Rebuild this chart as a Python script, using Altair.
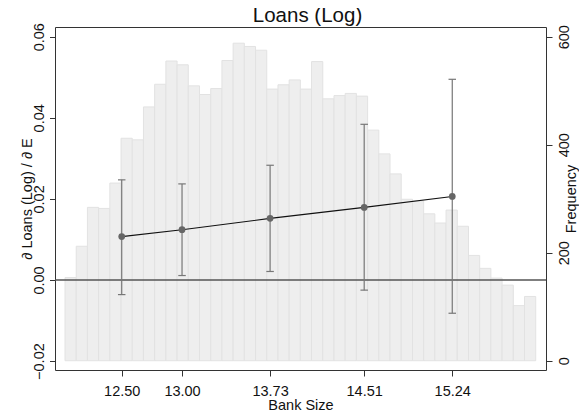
import altair as alt
import pandas as pd

# Histogram of bank size (right axis: Frequency)
hist_freq = [154, 212, 284, 282, 329, 412, 409, 470, 512, 555, 548, 509, 493, 504,
             556, 588, 582, 575, 503, 511, 520, 503, 554, 485, 491, 495, 490, 427,
             383, 346, 299, 296, 272, 255, 279, 249, 195, 171, 153, 140, 102, 119]
bin_start = 12.03
bin_width = 0.0929

# Marginal effects (left axis)
bank_size = [12.50, 13.00, 13.73, 14.51, 15.24]
effect = [0.0107, 0.0124, 0.0152, 0.0179, 0.0206]
ci_low = [-0.0036, 0.0011, 0.0021, -0.0025, -0.0082]
ci_high = [0.0247, 0.0237, 0.0283, 0.0384, 0.0495]

x_ticks = [12.50, 13.00, 13.73, 14.51, 15.24]
left_ticks = [-0.02, 0.00, 0.02, 0.04, 0.06]
right_ticks = [0, 200, 400, 600]

hist = pd.DataFrame({
    "x0": [bin_start + i * bin_width for i in range(len(hist_freq))],
    "x1": [bin_start + (i + 1) * bin_width for i in range(len(hist_freq))],
    "freq": hist_freq,
})
eff = pd.DataFrame({"size": bank_size, "est": effect, "lo": ci_low, "hi": ci_high})
zero = pd.DataFrame({"y": [0.0]})

FONT = "Liberation Sans"
TXT = "#111111"

xscale = alt.Scale(domain=[11.947, 16.017], nice=False, zero=False)
lscale = alt.Scale(domain=[-0.0222, 0.0624], nice=False, zero=False)
rscale = alt.Scale(domain=[-17.2, 618], nice=False, zero=False)

xaxis = alt.Axis(values=x_ticks, format=".2f", title="Bank Size", grid=False, domain=False,
                 tickSize=6, tickColor="#333", labelPadding=8, labelFontSize=14.5,
                 labelFont=FONT, labelColor=TXT, labelFlush=False, labelOverlap=False,
                 titleFont=FONT, titleFontSize=14.5, titleFontWeight="normal", titleColor=TXT,
                 titleBaseline="alphabetic", titleY=39)

laxis = alt.Axis(values=left_ticks, format=".2f", title="∂ Loans (Log) / ∂ E", orient="left",
                 grid=False, domain=False, tickSize=5.5, tickColor="#333",
                 labelAngle=270, labelAlign="center", labelBaseline="alphabetic", labelPadding=6,
                 labelFontSize=14.5, labelFont=FONT, labelColor=TXT, labelFlush=False,
                 labelOverlap=False,
                 titleAngle=270, titleAlign="center", titleBaseline="alphabetic",
                 titleX=-24, titleY=171.5, titleFont=FONT, titleFontSize=14.5,
                 titleFontWeight="normal", titleColor=TXT)

raxis = alt.Axis(values=right_ticks, format="d", title="Frequency", orient="right",
                 grid=False, domain=False, tickSize=6, tickColor="#333",
                 labelAngle=270, labelAlign="center", labelBaseline="top", labelPadding=5,
                 labelFontSize=14.5, labelFont=FONT, labelColor=TXT, labelFlush=False,
                 labelOverlap=False,
                 titleAngle=270, titleAlign="center", titleBaseline="alphabetic",
                 titleX=29, titleY=171.5, titleFont=FONT, titleFontSize=14.5,
                 titleFontWeight="normal", titleColor=TXT)

bars = alt.Chart(hist).mark_rect(fill="#eeeeee", stroke="#e2e2e2", strokeWidth=1).encode(
    x=alt.X("x0:Q", scale=xscale, axis=xaxis),
    x2="x1:Q",
    y=alt.Y("freq:Q", scale=rscale, axis=raxis),
    y2=alt.datum(0),
)

zero_line = alt.Chart(zero).mark_rule(color="#555555", strokeWidth=1.5).encode(
    y=alt.Y("y:Q", scale=lscale, axis=laxis),
)

err = alt.Chart(eff).mark_rule(color="#777777", strokeWidth=1.2).encode(
    x=alt.X("size:Q", scale=xscale, axis=xaxis),
    y=alt.Y("lo:Q", scale=lscale, axis=laxis),
    y2="hi:Q",
)

caps_lo = alt.Chart(eff).mark_tick(orient="horizontal", size=7.5, thickness=1.2,
                                   color="#777777", opacity=1).encode(
    x=alt.X("size:Q", scale=xscale, axis=xaxis),
    y=alt.Y("lo:Q", scale=lscale, axis=laxis),
)
caps_hi = alt.Chart(eff).mark_tick(orient="horizontal", size=7.5, thickness=1.2,
                                   color="#777777", opacity=1).encode(
    x=alt.X("size:Q", scale=xscale, axis=xaxis),
    y=alt.Y("hi:Q", scale=lscale, axis=laxis),
)

line = alt.Chart(eff).mark_line(color="#111111", strokeWidth=1.1).encode(
    x=alt.X("size:Q", scale=xscale, axis=xaxis),
    y=alt.Y("est:Q", scale=lscale, axis=laxis),
)

points = alt.Chart(eff).mark_circle(size=45, color="#666666", opacity=1).encode(
    x=alt.X("size:Q", scale=xscale, axis=xaxis),
    y=alt.Y("est:Q", scale=lscale, axis=laxis),
)

effects = alt.layer(zero_line, err, caps_lo, caps_hi, line, points)

chart = alt.layer(bars, effects).resolve_scale(y="independent").properties(
    width=491,
    height=343,
    autosize=alt.AutoSizeParams(type="none"),
    padding={"left": 47, "top": 19, "right": 33, "bottom": 46},
    title=alt.TitleParams("Loans (Log)", fontSize=20.5, fontWeight="normal", font=FONT,
                          color=TXT, anchor="middle", frame="group",
                          offset=0, dy=3.4, dx=7),
).configure_view(stroke="#333333", strokeWidth=1)

chart.save("out.html", embed_options={"renderer": "svg", "actions": False})
